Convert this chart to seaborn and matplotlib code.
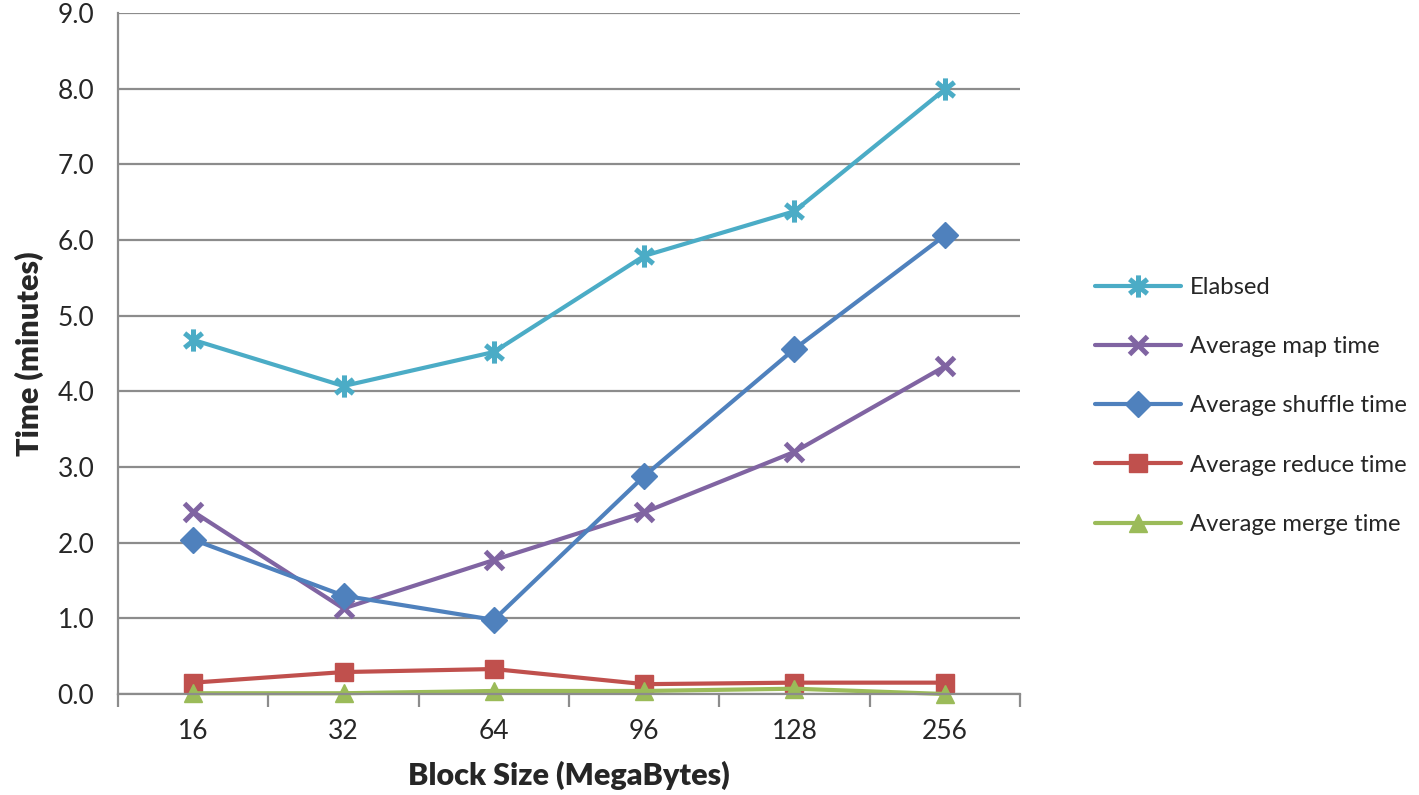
import numpy as np
import pandas as pd
import matplotlib
matplotlib.use("Agg")
import matplotlib.pyplot as plt
from matplotlib.path import Path
import seaborn as sns

block_sizes = ["16", "32", "64", "96", "128", "256"]
elabsed = [4.68, 4.07, 4.52, 5.79, 6.38, 7.99]
map_time = [2.41, 1.13, 1.77, 2.40, 3.20, 4.33]
shuffle_time = [2.04, 1.30, 0.98, 2.88, 4.56, 6.06]
reduce_time = [0.15, 0.29, 0.33, 0.13, 0.15, 0.15]
merge_time = [0.01, 0.01, 0.04, 0.04, 0.07, 0.00]

series_names = ["Elabsed", "Average map time", "Average shuffle time",
                "Average reduce time", "Average merge time"]
series_values = [elabsed, map_time, shuffle_time, reduce_time, merge_time]
colors = ["#4BACC6", "#8064A2", "#4F81BD", "#C0504D", "#9BBB59"]

# excel style star: an X with a vertical bar through it
star = Path([(-0.8, -0.65), (0.8, 0.65), (-0.8, 0.65), (0.8, -0.65), (0, -1), (0, 1)],
            [Path.MOVETO, Path.LINETO, Path.MOVETO, Path.LINETO, Path.MOVETO, Path.LINETO])
markers = [star, "x", "D", "s", "^"]
msizes = [23, 16, 18, 19, 20]

sns.set_theme(style="white")
plt.rcParams["font.family"] = ["Lato", "DejaVu Sans"]

fig = plt.figure(figsize=(14.19, 7.95), dpi=100)
ax = fig.add_axes([118 / 1419, 1 - 694 / 795, (1020 - 118) / 1419, (694 - 13) / 795])

grid_col = "#8c8c8c"
ax.set_axisbelow(True)
ax.yaxis.grid(True, color=grid_col, linewidth=1.6)

pos = np.arange(len(block_sizes))
for i, (name, vals, c, m, ms) in enumerate(zip(series_names, series_values, colors, markers, msizes)):
    df = pd.DataFrame({"x": pos, "y": vals})
    mew = 3.6 if i < 2 else 1
    sns.lineplot(data=df, x="x", y="y", ax=ax, color=c, linewidth=3.0,
                 marker=m, markersize=ms, markeredgecolor=c, markerfacecolor=c,
                 markeredgewidth=mew, label=name, legend=False, clip_on=False)

ax.set_xlim(-0.5, len(block_sizes) - 0.5)
ax.set_ylim(0, 9)
ax.set_yticks(np.arange(0, 9.5, 1.0))
ax.set_yticklabels([f"{v:.1f}" for v in np.arange(0, 9.5, 1.0)])
ax.set_xticks(pos)
ax.set_xticklabels(block_sizes)
ax.set_xticks(np.arange(-0.5, len(block_sizes)), minor=True)
ax.tick_params(axis="x", which="major", length=0, pad=18, labelsize=19)
ax.tick_params(axis="x", which="minor", length=9, width=1.6, color=grid_col, direction="out")
ax.tick_params(axis="y", length=9, width=1.6, color=grid_col, direction="out", pad=8, labelsize=19)
ax.xaxis.set_tick_params(bottom=True, which="minor")

for s in ["top", "right"]:
    ax.spines[s].set_visible(False)
for s in ["left", "bottom"]:
    ax.spines[s].set_color(grid_col)
    ax.spines[s].set_linewidth(1.6)

ax.set_xlabel("Block Size (MegaBytes)", fontsize=22, fontweight="heavy", labelpad=12)
ax.set_ylabel("Time (minutes)", fontsize=22, fontweight="heavy", labelpad=10)

handles, labels = ax.get_legend_handles_labels()
for i, h in enumerate(handles):
    h.set_markersize(16 if i == 0 else 13)
fig.legend(handles, labels, loc="center left", bbox_to_anchor=(1073 / 1419, 1 - 406 / 795),
           frameon=False, fontsize=17.2, labelspacing=1.6, handlelength=3.6,
           handletextpad=0.4)

fig.savefig("out.png", dpi=100)
